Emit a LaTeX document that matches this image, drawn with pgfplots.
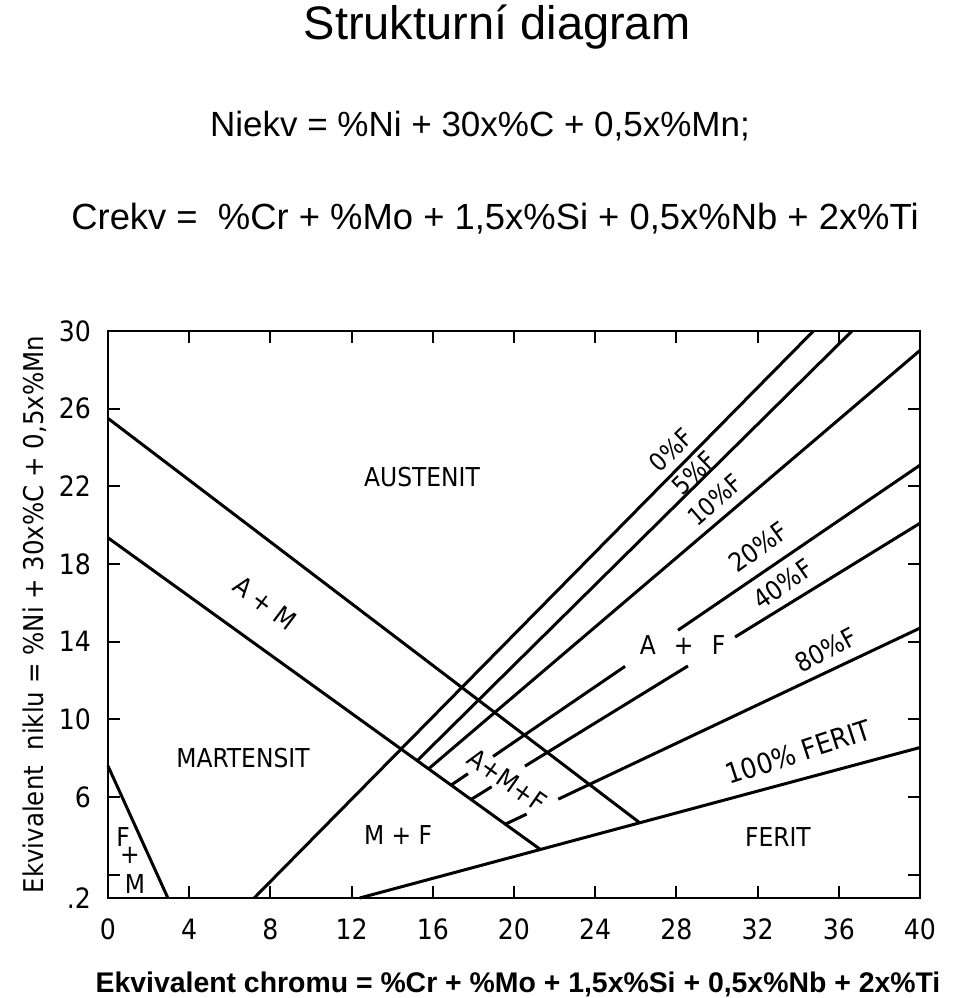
\documentclass[border=0pt]{standalone}
\usepackage{fontspec}
\setmainfont{Liberation Sans}
\newfontfamily\din{DejaVu Sans Condensed}
\usepackage{pgfplots}
\pgfplotsset{compat=1.18}

\begin{document}
\begin{tikzpicture}
% page box: 960x998 px at 0.5pt per px, origin = lower left of plot area
\path[use as bounding box] (-54pt,-50pt) rectangle (426pt,449pt);

\begin{axis}[
    scale only axis,
    width=406pt, height=283.5pt,
    xmin=0, xmax=40, ymin=0.8, ymax=30,
    xtick={0,4,...,40},
    ytick={6,10,...,30},
    extra y ticks={0.8,2},
    extra y tick labels={.2,{}},
    tick align=inside,
    major tick length=6pt,
    tick style={line width=1pt, black},
    axis line style={line width=1.2pt},
    tick label style={font=\din\fontsize{14}{14}\selectfont},
    /pgf/number format/assume math mode=true,
    xticklabel style={yshift=-7pt},
    yticklabel style={xshift=-5pt},
    ylabel={Ekvivalent \ niklu = \%Ni + 30x\%C + 0,5x\%Mn},
    ylabel style={at={(axis description cs:-0.0899,0.5)}, anchor=center,
                  font=\din\fontsize{13.6}{14}\selectfont},
    clip=false,
    every axis plot post/.append style={black, solid, line width=1.5pt, mark=none},
]
% austenite / A+M and A+M / martensite boundaries
\addplot coordinates {(0,25.5) (26.2,4.67)};
\addplot coordinates {(0,19.35) (21.3,3.3)};
% 100 % ferrite line
\addplot coordinates {(12.4,0.8) (40,8.55)};
% F+M corner
\addplot coordinates {(0,7.6) (2.95,0.8)};
% iso-ferrite lines
\addplot coordinates {(7.2,0.8) (34.75,30)};          % 0 %F
\addplot coordinates {(15.23,7.87) (36.65,30)};       % 5 %F
\addplot coordinates {(15.79,7.45) (40,29.0)};        % 10 %F
% 20 %F
\addplot coordinates {(16.90,6.61) (17.73,7.20)};
\addplot coordinates {(18.97,8.09) (25.47,12.73)};
\addplot coordinates {(28.08,14.59) (40,23.09)};
% 40 %F
\addplot coordinates {(17.88,5.87) (18.90,6.53)};
\addplot coordinates {(20.54,7.59) (28.57,12.75)};
\addplot coordinates {(30.89,14.24) (40,20.10)};
% 80 %F
\addplot coordinates {(19.57,4.60) (20.62,5.12)};
\addplot coordinates {(22.18,5.89) (40,14.70)};

\begin{scope}[every node/.style={font=\din\fontsize{13}{13}\selectfont, inner sep=0pt}]
\node at (axis cs:15.47,22.48) {AUSTENIT};
\node at (axis cs:6.65,8.01) {MARTENSIT};
\node[rotate=-37] at (axis cs:7.73,16.0) {A + M};
\node[rotate=-35] at (axis cs:19.66,6.88) {A+M+F};
\node at (axis cs:14.29,4.05) {M + F};
\node at (axis cs:33.0,3.94) {FERIT};
\node at (axis cs:0.74,3.94) {F};
\node at (axis cs:1.08,3.0) {+};
\node at (axis cs:1.33,1.5) {M};
\node at (axis cs:28.3,13.83) {A\hspace{0.7em}+\hspace{0.7em}F};
\node[rotate=36] at (axis cs:32.02,18.88) {20\%F};
\node[rotate=35] at (axis cs:33.25,16.97) {40\%F};
\node[rotate=28] at (axis cs:35.37,13.57) {80\%F};
\node[rotate=18,font=\din\fontsize{14}{14}\selectfont] at (34.0,8.32) {100\% FERIT};
\end{scope}
\begin{scope}[every node/.style={font=\din\fontsize{12.5}{12}\selectfont, inner sep=0pt}]
\node[rotate=44] at (axis cs:27.73,23.87) {0\%F};
\node[rotate=44] at (axis cs:28.87,22.69) {5\%F};
\node[rotate=41] at (axis cs:29.9,21.3) {10\%F};
\end{scope}
\end{axis}

\node[anchor=base, font=\fontsize{23.5}{27}\selectfont] at (194.5pt,429pt) {Strukturní diagram};
\node[anchor=base, font=\fontsize{17.5}{21}\selectfont] at (186pt,380.5pt) {Niekv = \%Ni + 30x\%C + 0,5x\%Mn;};
\node[anchor=base, font=\fontsize{18.2}{21}\selectfont] at (193.5pt,334pt) {Crekv = \ \%Cr + \%Mo + 1,5x\%Si + 0,5x\%Nb + 2x\%Ti};
\node[anchor=base, font=\bfseries\fontsize{14.2}{17}\selectfont] at (205pt,-47pt) {Ekvivalent chromu = \%Cr + \%Mo + 1,5x\%Si + 0,5x\%Nb + 2x\%Ti};
\end{tikzpicture}
\end{document}
